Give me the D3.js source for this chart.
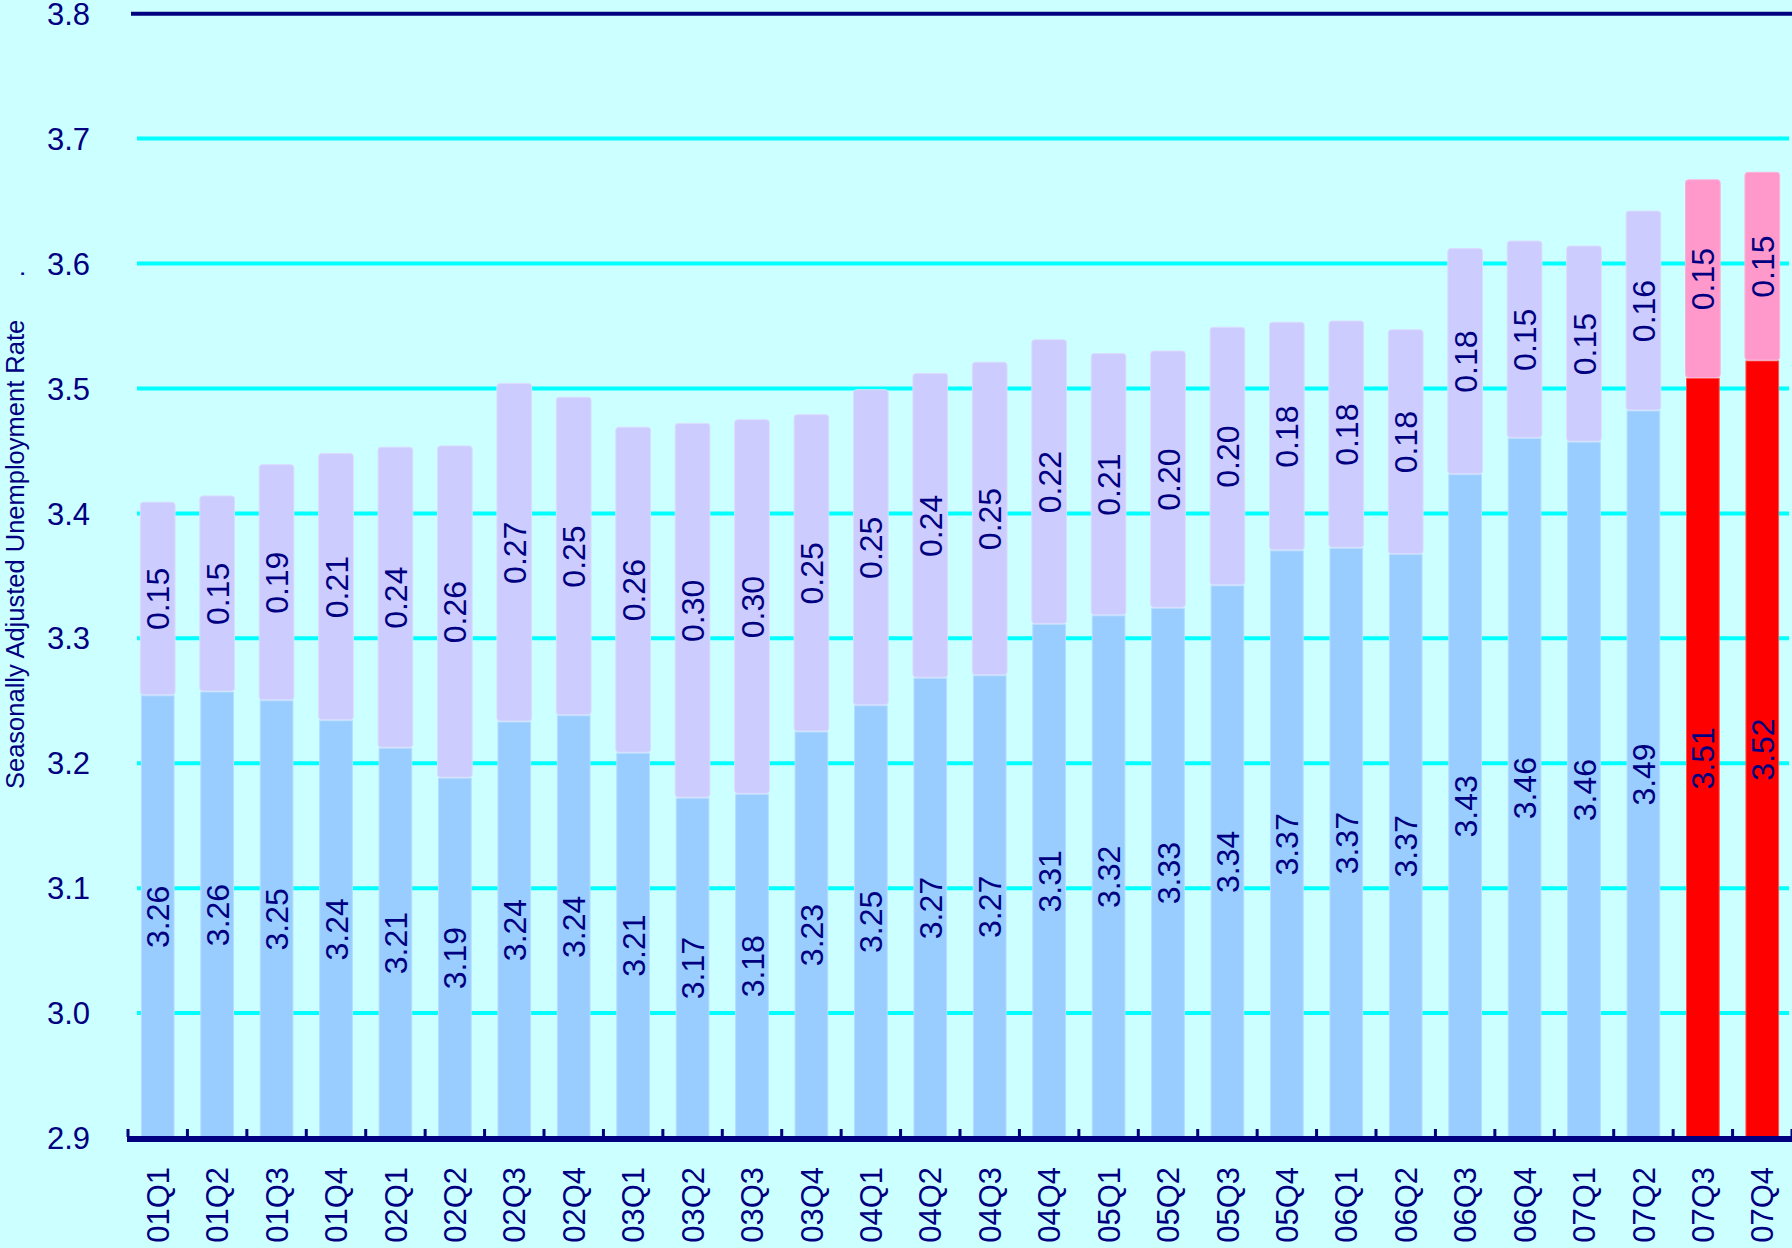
<!DOCTYPE html>
<html>
<head>
<meta charset="utf-8">
<script src="https://cdn.jsdelivr.net/npm/d3@7"></script>
<style>
  html, body { margin: 0; padding: 0; background: #ccffff; }
  svg { display: block; font-family: "Liberation Sans", Arial, sans-serif; }
</style>
</head>
<body>
<div id="chart"></div>
<script>
// quarters on the x axis
var quarters = ['01Q1','01Q2','01Q3','01Q4','02Q1','02Q2','02Q3','02Q4',
  '03Q1','03Q2','03Q3','03Q4','04Q1','04Q2','04Q3','04Q4',
  '05Q1','05Q2','05Q3','05Q4','06Q1','06Q2','06Q3','06Q4',
  '07Q1','07Q2','07Q3','07Q4'];

// lower segment (rate)
var baseValues = [3.254,3.257,3.250,3.234,3.212,3.188,3.233,3.238,
  3.208,3.172,3.175,3.225,3.246,3.268,3.270,3.311,
  3.318,3.324,3.342,3.370,3.372,3.367,3.431,3.460,
  3.457,3.482,3.508,3.522];

// upper segment (gap on top of the rate)
var gapValues = [0.155,0.157,0.189,0.214,0.241,0.266,0.271,0.255,
  0.261,0.300,0.300,0.254,0.253,0.244,0.251,0.228,
  0.210,0.206,0.207,0.183,0.182,0.180,0.181,0.158,
  0.157,0.160,0.159,0.151];

// labels printed on the bars
var baseLabels = ['3.26','3.26','3.25','3.24','3.21','3.19','3.24','3.24',
  '3.21','3.17','3.18','3.23','3.25','3.27','3.27','3.31',
  '3.32','3.33','3.34','3.37','3.37','3.37','3.43','3.46',
  '3.46','3.49','3.51','3.52'];
var gapLabels = ['0.15','0.15','0.19','0.21','0.24','0.26','0.27','0.25',
  '0.26','0.30','0.30','0.25','0.25','0.24','0.25','0.22',
  '0.21','0.20','0.20','0.18','0.18','0.18','0.18','0.15',
  '0.15','0.16','0.15','0.15'];

var highlighted = ['07Q3','07Q4'];

var yTicks = [2.9,3.0,3.1,3.2,3.3,3.4,3.5,3.6,3.7,3.8];
var yTitle = 'Seasonally Adjusted Unemployment Rate      .';

var width = 1792, height = 1248;
var navy = '#000080';

var svg = d3.select('#chart').append('svg')
  .attr('width', width)
  .attr('height', height);

svg.append('rect')
  .attr('width', width)
  .attr('height', height)
  .attr('fill', '#ccffff');

var x = d3.scaleBand()
  .domain(quarters)
  .range([128, 1792])
  .paddingInner(0.45)
  .paddingOuter(0.225);

var y = d3.scaleLinear()
  .domain([2.9, 3.8])
  .range([1138, 13.7]);

var rows = quarters.map(function(q, i) {
  return { q: q, base: baseValues[i], gap: gapValues[i],
    baseLabel: baseLabels[i], gapLabel: gapLabels[i],
    hot: highlighted.indexOf(q) >= 0 };
});

// grid lines
svg.append('g')
  .selectAll('line')
  .data(yTicks.filter(function(t){ return t > 2.95; }))
  .enter().append('line')
  .attr('x1', function(t){ return t > 3.75 ? 131 : 137; })
  .attr('x2', function(t){ return t > 3.75 ? 1792 : 1789; })
  .attr('y1', function(t){ return y(t); })
  .attr('y2', function(t){ return y(t); })
  .attr('stroke', function(t){ return t > 3.75 ? navy : '#00ffff'; })
  .attr('stroke-width', 4);

// y tick labels
svg.append('g')
  .selectAll('text')
  .data(yTicks)
  .enter().append('text')
  .attr('x', 90)
  .attr('y', function(t){ return y(t); })
  .attr('dy', '0.36em')
  .attr('text-anchor', 'end')
  .attr('fill', navy)
  .style('font-size', '31px')
  .text(function(t){ return t.toFixed(1); });

// y axis title
svg.append('text')
  .attr('transform', 'translate(24,789) rotate(-90)')
  .attr('fill', navy)
  .style('font-size', '25.5px')
  .style('white-space', 'pre')
  .text(yTitle);

var bars = svg.append('g')
  .selectAll('g')
  .data(rows)
  .enter().append('g');

// lower segment
bars.append('rect')
  .attr('x', function(d){ return x(d.q); })
  .attr('width', x.bandwidth())
  .attr('y', function(d){ return y(d.base); })
  .attr('height', function(d){ return y(2.9) - y(d.base); })
  .attr('fill', function(d){ return d.hot ? '#ff0000' : '#99ccff'; })
  .attr('stroke', function(d){ return d.hot ? '#ff5050' : '#b8dcff'; })
  .attr('stroke-width', 1);

// upper segment
bars.append('rect')
  .attr('x', function(d){ return x(d.q) - 1; })
  .attr('width', x.bandwidth() + 2)
  .attr('y', function(d){ return y(d.base + d.gap); })
  .attr('height', function(d){ return y(d.base) - y(d.base + d.gap) - 1; })
  .attr('rx', 3)
  .attr('fill', function(d){ return d.hot ? '#ff99cc' : '#ccccff'; })
  .attr('stroke', function(d){ return d.hot ? '#ffb0d8' : '#dcdcff'; })
  .attr('stroke-width', 1);

function vlabel(sel, cy, txt) {
  sel.append('text')
    .attr('transform', function(d){
      return 'translate(' + (x(d.q) + x.bandwidth() / 2) + ',' + cy(d) + ') rotate(-90)';
    })
    .attr('dy', '0.36em')
    .attr('text-anchor', 'middle')
    .attr('fill', navy)
    .style('font-size', '32px')
    .text(txt);
}

vlabel(bars, function(d){ return (y(2.9) + y(d.base)) / 2; }, function(d){ return d.baseLabel; });
vlabel(bars, function(d){ return (y(d.base) + y(d.base + d.gap)) / 2; }, function(d){ return d.gapLabel; });

// x axis: baseline, ticks at band edges, labels
var step = x.step();
svg.append('line')
  .attr('x1', 127).attr('x2', 1792)
  .attr('y1', 1139).attr('y2', 1139)
  .attr('stroke', navy)
  .attr('stroke-width', 6);

svg.append('g')
  .selectAll('rect')
  .data(d3.range(quarters.length + 1))
  .enter().append('rect')
  .attr('x', function(i){ return 128 + i * step - 1.5; })
  .attr('y', 1129)
  .attr('width', 3)
  .attr('height', 8)
  .attr('fill', navy);

svg.append('g')
  .selectAll('text')
  .data(quarters)
  .enter().append('text')
  .attr('transform', function(q){
    return 'translate(' + (x(q) + x.bandwidth() / 2) + ',1167) rotate(-90)';
  })
  .attr('dy', '0.36em')
  .attr('text-anchor', 'end')
  .attr('fill', navy)
  .style('font-size', '31px')
  .text(function(q){ return q; });
</script>
</body>
</html>
